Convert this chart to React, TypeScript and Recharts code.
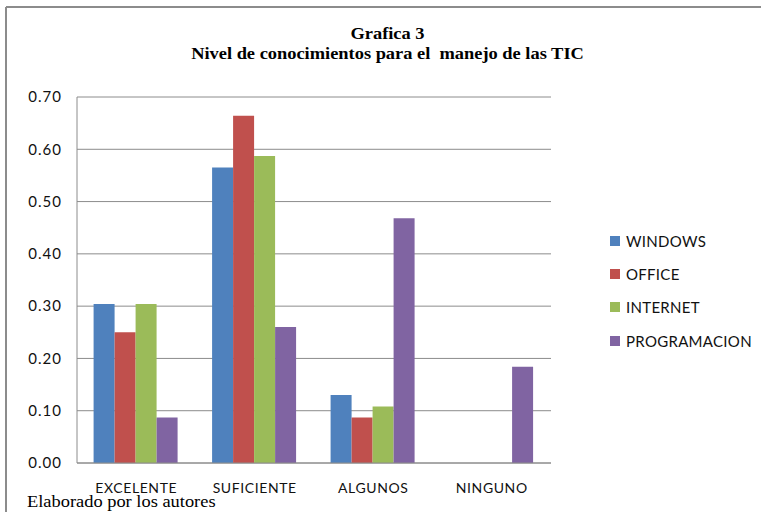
import React from 'react';
import { BarChart, Bar, XAxis, YAxis, CartesianGrid, Legend } from 'recharts';

const categories = ['EXCELENTE', 'SUFICIENTE', 'ALGUNOS', 'NINGUNO'];
const windows = [0.304, 0.565, 0.13, 0];
const office = [0.25, 0.664, 0.087, 0];
const internet = [0.304, 0.587, 0.108, 0];
const programacion = [0.087, 0.26, 0.468, 0.184];
const yTicks = [0, 0.1, 0.2, 0.3, 0.4, 0.5, 0.6, 0.7];

const seriesNames = ['WINDOWS', 'OFFICE', 'INTERNET', 'PROGRAMACION'];
const seriesColors = ['#4F81BD', '#C0504D', '#9BBB59', '#8064A2'];
const seriesValues = [windows, office, internet, programacion];

const data = categories.map((c, i) => {
  const row: Record<string, any> = { name: c };
  seriesNames.forEach((s, j) => {
    row[s] = seriesValues[j][i];
  });
  return row;
});

const sans = 'Lato, "Open Sans", sans-serif';
const serif = '"Liberation Serif", "Times New Roman", serif';

const LegendContent = (props: any) => {
  const payload = [...(props.payload || [])].sort(
    (a: any, b: any) => seriesNames.indexOf(a.value) - seriesNames.indexOf(b.value)
  );
  return (
    <div style={{ fontFamily: sans, fontSize: 15, color: '#111' }}>
      {payload.map((p: any) => (
        <div key={p.value} style={{ display: 'flex', alignItems: 'center', height: 33.3 }}>
          <span style={{ display: 'inline-block', width: 10, height: 10, background: p.color, marginRight: 6 }} />
          <span style={{ letterSpacing: 0.3 }}>{p.value}</span>
        </div>
      ))}
    </div>
  );
};

export default function App() {
  return (
    <div style={{ position: 'absolute', left: 0, top: 0, width: 761, height: 512, overflow: 'hidden', background: '#fff' }}>
      <svg width={761} height={512} style={{ position: 'absolute', left: 0, top: 0 }}>
        <line x1={6} y1={7} x2={761} y2={7} stroke="#8c8c8c" strokeWidth={2} />
        <line x1={6} y1={7} x2={6} y2={512} stroke="#8c8c8c" strokeWidth={2} />
      </svg>
      <div style={{ position: 'absolute', left: 0, width: 775, top: 24, textAlign: 'center', fontFamily: serif, fontWeight: 'bold', fontSize: 16, lineHeight: '20px', color: '#000', transform: 'scaleX(1.15)', transformOrigin: '387.5px 0' }}>
        <div>Grafica 3</div>
        <div style={{ whiteSpace: 'pre' }}>Nivel de conocimientos para el  manejo de las TIC</div>
      </div>
      <div style={{ position: 'absolute', left: 0, top: 0, width: 761, height: 512 }}>
        <BarChart
          width={761}
          height={512}
          data={data}
          margin={{ top: 97, right: 210, left: 17, bottom: 19 }}
          barCategoryGap="14%"
          barGap={0}
        >
          <CartesianGrid vertical={false} stroke="#8c8c8c" strokeWidth={1} />
          <XAxis
            dataKey="name"
            height={30}
            tickLine={false}
            axisLine={{ stroke: '#8c8c8c' }}
            tickMargin={14}
            tick={{ fill: '#111', fontFamily: sans, fontSize: 14, letterSpacing: 0.6 }}
            interval={0}
          />
          <YAxis
            width={60}
            domain={[0, 0.7]}
            ticks={yTicks}
            tickFormatter={(v: number) => v.toFixed(2)}
            tickLine={false}
            axisLine={{ stroke: '#8c8c8c' }}
            tickMargin={9}
            tick={{ fill: '#111', fontFamily: sans, fontSize: 15, letterSpacing: 1 }}
            interval={0}
          />
          <Legend
            layout="vertical"
            align="center"
            verticalAlign="middle"
            content={<LegendContent />}
            wrapperStyle={{ left: 610, top: 224, width: 148 }}
          />
          {seriesNames.map((s, j) => (
            <Bar key={s} dataKey={s} fill={seriesColors[j]} isAnimationActive={false} />
          ))}
        </BarChart>
      </div>
      <div style={{ position: 'absolute', left: 27, top: 494, fontFamily: serif, fontSize: 16, lineHeight: '16px', color: '#000', whiteSpace: 'nowrap', transform: 'scaleX(1.15)', transformOrigin: '0 0' }}>
        Elaborado por los autores
      </div>
    </div>
  );
}
